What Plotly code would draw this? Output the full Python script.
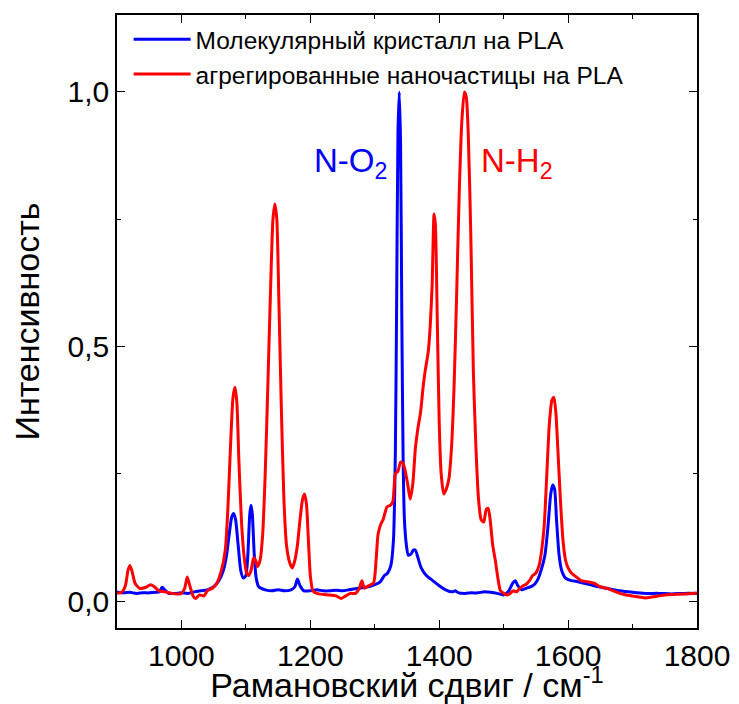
import plotly.graph_objects as go

# ---- data ----
blue_x = [900, 910, 920, 930, 940, 950, 960, 966, 970, 974, 980, 990, 1000, 1010, 1020, 1030, 1040, 1050,
          1058, 1065, 1070, 1074, 1078, 1081, 1084, 1088, 1092, 1096, 1100, 1103, 1106, 1108, 1110, 1113,
          1116, 1120, 1130, 1140, 1150, 1160, 1170, 1176, 1180, 1184, 1190, 1200, 1210, 1220, 1230, 1240,
          1250, 1260, 1270, 1280, 1290, 1300, 1308, 1315, 1320, 1325, 1329, 1332, 1334, 1336, 1338, 1340,
          1342, 1344, 1346, 1349, 1352, 1356, 1360, 1363, 1367, 1372, 1380, 1390, 1400, 1410, 1420, 1425,
          1430, 1440, 1450, 1460, 1470, 1480, 1490, 1500, 1508, 1514, 1518, 1522, 1528, 1535, 1545, 1552,
          1558, 1564, 1569, 1573, 1576, 1579, 1582, 1586, 1590, 1596, 1605, 1615, 1625, 1640, 1660, 1680,
          1700, 1720, 1740, 1760, 1780, 1800]
blue_y = [0.018, 0.016, 0.017, 0.015, 0.016, 0.016, 0.017, 0.018, 0.027, 0.022, 0.015, 0.015, 0.016, 0.015,
          0.018, 0.020, 0.022, 0.028, 0.040, 0.060, 0.090, 0.130, 0.165, 0.172, 0.160, 0.110, 0.060, 0.045,
          0.050, 0.090, 0.170, 0.188, 0.170, 0.090, 0.045, 0.028, 0.022, 0.020, 0.022, 0.020, 0.022, 0.028,
          0.043, 0.030, 0.020, 0.020, 0.022, 0.020, 0.020, 0.021, 0.020, 0.022, 0.024, 0.026, 0.028, 0.032,
          0.037, 0.050, 0.055, 0.070, 0.120, 0.300, 0.600, 0.920, 1.000, 0.900, 0.550, 0.280, 0.160, 0.110,
          0.090, 0.092, 0.100, 0.100, 0.085, 0.065, 0.050, 0.040, 0.030, 0.022, 0.018, 0.020, 0.016, 0.015,
          0.016, 0.016, 0.018, 0.017, 0.015, 0.012, 0.020, 0.035, 0.040, 0.030, 0.022, 0.025, 0.030, 0.040,
          0.060, 0.090, 0.150, 0.210, 0.228, 0.220, 0.160, 0.090, 0.060, 0.045, 0.040, 0.038, 0.035, 0.030,
          0.025, 0.020, 0.017, 0.015, 0.015, 0.014, 0.015, 0.015]

red_x = [900, 908, 913, 917, 920, 923, 928, 935, 945, 952, 958, 965, 975, 985, 995, 1000, 1005, 1009, 1013,
         1018, 1022, 1028, 1035, 1040, 1048, 1055, 1062, 1068, 1072, 1076, 1080, 1083, 1086, 1089, 1093,
         1097, 1101, 1104, 1108, 1112, 1115, 1118, 1122, 1126, 1130, 1134, 1138, 1142, 1145, 1148, 1151,
         1155, 1159, 1163, 1168, 1172, 1176, 1180, 1184, 1188, 1191, 1194, 1197, 1200, 1204, 1210, 1220,
         1230, 1240, 1248, 1255, 1262, 1270, 1276, 1280, 1284, 1290, 1298, 1302, 1305, 1309, 1313, 1319,
         1324, 1328, 1332, 1336, 1340, 1344, 1347, 1351, 1355, 1359, 1363, 1367, 1371, 1375, 1378, 1383,
         1386, 1389, 1392, 1394, 1397, 1400, 1403, 1407, 1411, 1415, 1419, 1423, 1427, 1431, 1435, 1439,
         1442, 1445, 1449, 1453, 1457, 1461, 1465, 1469, 1473, 1476, 1479, 1483, 1487, 1491, 1495, 1500,
         1505, 1510, 1515, 1520, 1525, 1530, 1535, 1540, 1545, 1550, 1555, 1559, 1563, 1567, 1571, 1575,
         1578, 1581, 1584, 1588, 1592, 1596, 1600, 1605, 1610, 1615, 1620, 1630, 1640, 1650, 1660, 1670,
         1680, 1690, 1700, 1710, 1720, 1730, 1740, 1750, 1760, 1780, 1800]
red_y = [0.015, 0.018, 0.030, 0.060, 0.070, 0.060, 0.035, 0.025, 0.027, 0.032, 0.028, 0.020, 0.018, 0.015,
         0.014, 0.015, 0.025, 0.047, 0.030, 0.010, 0.005, 0.012, 0.010, 0.020, 0.025, 0.035, 0.060, 0.100,
         0.180, 0.300, 0.400, 0.420, 0.390, 0.280, 0.160, 0.090, 0.055, 0.050, 0.060, 0.085, 0.080, 0.068,
         0.080, 0.130, 0.250, 0.420, 0.600, 0.750, 0.780, 0.750, 0.600, 0.380, 0.200, 0.110, 0.075, 0.065,
         0.080, 0.110, 0.160, 0.200, 0.210, 0.190, 0.120, 0.050, 0.020, 0.015, 0.013, 0.012, 0.010, 0.005,
         0.010, 0.015, 0.015, 0.025, 0.040, 0.025, 0.030, 0.035, 0.080, 0.130, 0.150, 0.160, 0.185, 0.188,
         0.195, 0.250, 0.255, 0.273, 0.270, 0.257, 0.230, 0.200, 0.230, 0.300, 0.340, 0.370, 0.420, 0.450,
         0.490, 0.540, 0.620, 0.760, 0.740, 0.550, 0.350, 0.250, 0.210, 0.220, 0.240, 0.300, 0.420, 0.600,
         0.800, 0.940, 1.000, 0.990, 0.920, 0.720, 0.450, 0.300, 0.200, 0.160, 0.155, 0.180, 0.182, 0.160,
         0.110, 0.080, 0.045, 0.020, 0.015, 0.012, 0.015, 0.020, 0.018, 0.025, 0.030, 0.033, 0.040, 0.050,
         0.055, 0.070, 0.100, 0.150, 0.250, 0.350, 0.395, 0.400, 0.370, 0.300, 0.200, 0.120, 0.080, 0.065,
         0.055, 0.050, 0.045, 0.040, 0.038, 0.035, 0.028, 0.025, 0.020, 0.015, 0.012, 0.010, 0.008, 0.006,
         0.008, 0.010, 0.012, 0.013, 0.014, 0.016]

series_names = ["Молекулярный кристалл на PLA", "агрегированные наночастицы на PLA"]
x_tickvals = [1000, 1200, 1400, 1600, 1800]
y_tickvals = [0.0, 0.5, 1.0]
y_ticktext = ["0,0", "0,5", "1,0"]

FONT = "Liberation Sans, Arial, sans-serif"

fig = go.Figure()
fig.add_trace(go.Scatter(x=blue_x, y=blue_y, mode="lines", name=series_names[0],
                         line=dict(color="#0000FF", width=3, shape="spline", smoothing=0.6)))
fig.add_trace(go.Scatter(x=red_x, y=red_y, mode="lines", name=series_names[1],
                         line=dict(color="#FF0000", width=3, shape="spline", smoothing=0.6)))

fig.add_annotation(x=1262, y=0.86, text="N-O<sub>2</sub>", showarrow=False,
                   font=dict(family=FONT, size=33, color="#0000FF"))
fig.add_annotation(x=1521, y=0.86, text="N-H<sub>2</sub>", showarrow=False,
                   font=dict(family=FONT, size=33, color="#FF0000"))

axis_common = dict(showline=True, linecolor="black", linewidth=1.5, mirror="allticks",
                   ticks="inside", ticklen=8, tickwidth=1, tickcolor="black",
                   showgrid=False, zeroline=False, automargin=False,
                   tickfont=dict(family=FONT, size=30, color="black"))

fig.update_xaxes(range=[900, 1800], tickvals=x_tickvals,
                 minor=dict(dtick=100, ticks="inside", ticklen=4, tickcolor="black", showgrid=False),
                 title=dict(text="Рамановский сдвиг / см<sup>-1</sup>",
                            font=dict(family=FONT, size=34, color="black"), standoff=5),
                 **axis_common)
fig.update_yaxes(range=[-0.053, 1.151], tickvals=y_tickvals, ticktext=y_ticktext,
                 minor=dict(dtick=0.25, tick0=0, ticks="inside", ticklen=4, tickcolor="black", showgrid=False),
                 title=dict(text="Интенсивность", font=dict(family=FONT, size=34, color="black"), standoff=18),
                 **axis_common)

fig.update_layout(
    width=739, height=704,
    margin=dict(l=117, r=42, t=15, b=76),
    plot_bgcolor="white", paper_bgcolor="white",
    showlegend=True,
    legend=dict(x=0.02, y=0.997, xanchor="left", yanchor="top", bgcolor="rgba(0,0,0,0)",
                font=dict(family=FONT, size=24.5, color="black"), itemwidth=57, tracegroupgap=0),
)

fig.write_html("out.html")
